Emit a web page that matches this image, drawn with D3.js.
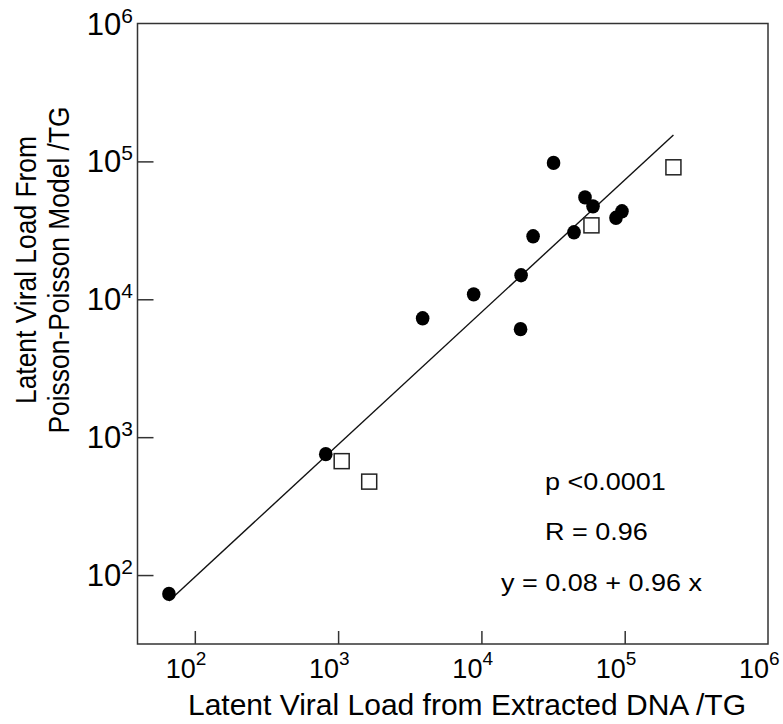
<!DOCTYPE html>
<html>
<head>
<meta charset="utf-8">
<script src="https://cdn.jsdelivr.net/npm/d3@7"></script>
<style>
  html, body { margin: 0; padding: 0; background: #fff; }
  text { font-family: "Liberation Sans", Arial, sans-serif; fill: #000; }
</style>
</head>
<body>
<svg id="chart" width="783" height="724"></svg>
<script>
// ---- data ----
const dotX = [66, 820, 3890, 8830, 18760, 18920, 22950, 31870, 44270, 52840, 60100, 86900, 95700];
const dotY = [73, 753, 7280, 10860, 6070, 14930, 28630, 97500, 30600, 54830, 47200, 38990, 43450];
const squareX = [1059, 1648, 58600, 218800];
const squareY = [670, 476, 34360, 90600];
const tickExponents = [2, 3, 4, 5, 6];
const fitIntercept = 0.08;
const fitSlope = 0.96;
const annotations = ["p <0.0001", "R = 0.96", "y = 0.08 + 0.96 x"];
const xTitle = "Latent Viral Load from Extracted DNA /TG";
const yTitle = ["Latent Viral Load From", "Poisson-Poisson Model /TG"];

// ---- layout ----
const svg = d3.select("#chart");
const L = 137.5, R = 768, T = 23.5, B = 644;
const x = d3.scaleLog().domain([Math.pow(10, 1.6), 1e6]).range([L, R]);
const y = d3.scaleLog().domain([Math.pow(10, 1.5), 1e6]).range([B, T]);
const axisColor = "#333";
const tickVals = tickExponents.map(e => Math.pow(10, e));

// frame
svg.append("rect").attr("x", L).attr("y", T).attr("width", R - L).attr("height", B - T)
  .attr("fill", "none").attr("stroke", axisColor).attr("stroke-width", 1.5);

// x axis ticks (inward)
const gx = svg.append("g").attr("transform", `translate(0,${B})`)
  .call(d3.axisBottom(x).tickValues(tickVals.slice(0, 4)).tickSize(-13).tickFormat(""));
gx.select(".domain").remove();
gx.selectAll(".tick line").attr("stroke", axisColor).attr("stroke-width", 1.5);

// x tick labels
tickExponents.forEach(e => {
  const px = x(Math.pow(10, e));
  svg.append("text").attr("x", px + 1).attr("y", 678).attr("text-anchor", "end")
    .attr("font-size", 27).text("10");
  svg.append("text").attr("x", px + 1).attr("y", 665).attr("text-anchor", "start")
    .attr("font-size", 19).text(e);
});

// y axis ticks (inward)
const gy = svg.append("g").attr("transform", `translate(${L},0)`)
  .call(d3.axisLeft(y).tickValues(tickVals.slice(0, 4)).tickSize(-16).tickFormat(""));
gy.select(".domain").remove();
gy.selectAll(".tick line").attr("stroke", axisColor).attr("stroke-width", 1.5);

// y tick labels
tickExponents.forEach(e => {
  const py = y(Math.pow(10, e));
  const t = svg.append("text").attr("x", 133).attr("y", py + 11).attr("text-anchor", "end");
  t.append("tspan").attr("font-size", 31).text("10");
  t.append("tspan").attr("font-size", 21).attr("dy", -12).text(e);
});

// fit line over the data x range
const allX = dotX.concat(squareX);
const xMin = d3.min(allX), xMax = d3.max(allX);
const fitPts = [xMin, xMax].map(v => [v, Math.pow(10, fitIntercept + fitSlope * Math.log10(v))]);
svg.append("path")
  .attr("d", d3.line().x(d => x(d[0])).y(d => y(d[1]) + 2)(fitPts))
  .attr("fill", "none").attr("stroke", "#111").attr("stroke-width", 1.4);

// squares
const sq = 15;
svg.append("g").selectAll("rect").data(squareX.map((v, i) => [v, squareY[i]])).join("rect")
  .attr("x", d => x(d[0]) - sq / 2).attr("y", d => y(d[1]) - sq / 2)
  .attr("width", sq).attr("height", sq)
  .attr("fill", "#fff").attr("stroke", "#222").attr("stroke-width", 1.5);

// dots
svg.append("g").selectAll("ellipse").data(dotX.map((v, i) => [v, dotY[i]])).join("ellipse")
  .attr("cx", d => x(d[0])).attr("cy", d => y(d[1])).attr("rx", 6.8).attr("ry", 7.2).attr("fill", "#000");

// annotations
const annX = [545, 545, 501], annY = [490, 540, 591];
annotations.forEach((s, i) => {
  svg.append("text").attr("x", annX[i]).attr("y", annY[i]).attr("font-size", 27)
    .attr("transform", `translate(${annX[i]},${annY[i]}) scale(1,0.92) translate(${-annX[i]},${-annY[i]})`)
    .text(s);
});

// axis titles
svg.append("text").attr("x", 467).attr("y", 715).attr("text-anchor", "middle")
  .attr("font-size", 30).text(xTitle);
yTitle.forEach((s, i) => {
  svg.append("text").attr("transform", `translate(${36 + i * 33},270) rotate(-90) scale(0.88,1)`)
    .attr("text-anchor", "middle").attr("font-size", 30).text(s);
});
</script>
</body>
</html>
